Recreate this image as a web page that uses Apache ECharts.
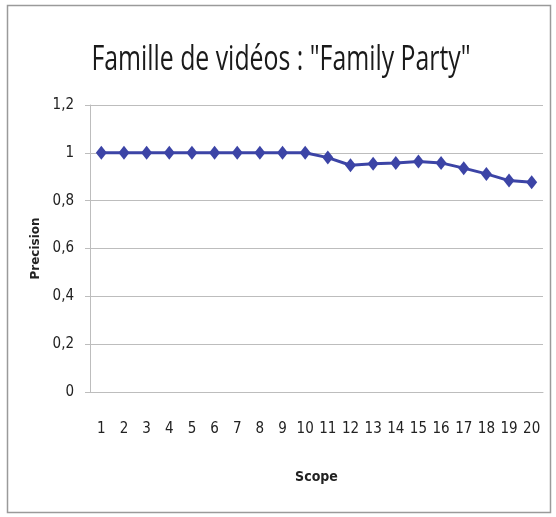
<!DOCTYPE html>
<html>
<head>
<meta charset="utf-8">
<script src="https://cdn.jsdelivr.net/npm/echarts@6/dist/echarts.min.js"></script>
<style>
  html, body { margin: 0; padding: 0; background: #fff; }
  #chart { width: 556px; height: 517px; }
</style>
</head>
<body>
<div id="chart"></div>
<script>
// Precision by scope for the "Family Party" video family
const scopes = ['1','2','3','4','5','6','7','8','9','10','11','12','13','14','15','16','17','18','19','20'];
const precision = [1, 1, 1, 1, 1, 1, 1, 1, 1, 1, 0.98, 0.948, 0.954, 0.957, 0.964, 0.958, 0.936, 0.912, 0.884, 0.877];
const yTicks = ['0', '0,2', '0,4', '0,6', '0,8', '1', '1,2'];
const titleText = 'Famille de vidéos : "Family Party"';

const narrow = '"DejaVu Sans Condensed", "Liberation Sans Narrow", "Open Sans", sans-serif';

const chart = echarts.init(document.getElementById('chart'));
chart.setOption({
  backgroundColor: '#ffffff',
  animation: false,
  graphic: [{
    type: 'rect',
    shape: { x: 7.5, y: 5.5, width: 543, height: 507 },
    style: { fill: 'none', stroke: '#9a9a9a', lineWidth: 1.5 },
    silent: true
  }, {
    // condensed title: horizontally squeezed around its centre
    type: 'text',
    x: 281,
    y: 60,
    scaleX: 0.73,
    silent: true,
    style: {
      text: titleText,
      font: '500 34px "Open Sans", sans-serif',
      fill: '#1a1a1a',
      textAlign: 'center',
      textVerticalAlign: 'middle'
    }
  }],
  grid: { left: 90, right: 13, top: 105, bottom: 125 },
  xAxis: {
    type: 'category',
    data: scopes,
    boundaryGap: true,
    name: 'Scope',
    nameLocation: 'middle',
    nameGap: 78,
    nameTextStyle: { fontFamily: narrow, fontSize: 14, fontWeight: 'bold', color: '#222' },
    axisLine: { lineStyle: { color: '#bdbdbd', width: 1 } },
    axisTick: { show: false },
    axisLabel: { fontFamily: narrow, fontSize: 15, color: '#222', margin: 30 }
  },
  yAxis: {
    type: 'value',
    min: 0,
    max: 1.2,
    interval: 0.2,
    name: 'Precision',
    nameLocation: 'middle',
    nameGap: 45,
    nameRotate: 90,
    nameTextStyle: { fontFamily: '"DejaVu Sans", sans-serif', fontSize: 12, fontWeight: 'bold', color: '#222' },
    axisLine: { show: true, lineStyle: { color: '#bdbdbd', width: 1 } },
    axisTick: { show: true, length: 5, lineStyle: { color: '#bdbdbd' } },
    splitLine: { lineStyle: { color: '#bdbdbd', width: 1 } },
    axisLabel: {
      fontFamily: narrow, fontSize: 15, color: '#222', margin: 16,
      formatter: v => yTicks[Math.round(v / 0.2)]
    }
  },
  series: [{
    type: 'line',
    data: precision,
    symbol: 'diamond',
    symbolSize: [11, 14],
    lineStyle: { color: '#3c44a6', width: 3 },
    itemStyle: { color: '#3c44a6' }
  }]
});
</script>
</body>
</html>
